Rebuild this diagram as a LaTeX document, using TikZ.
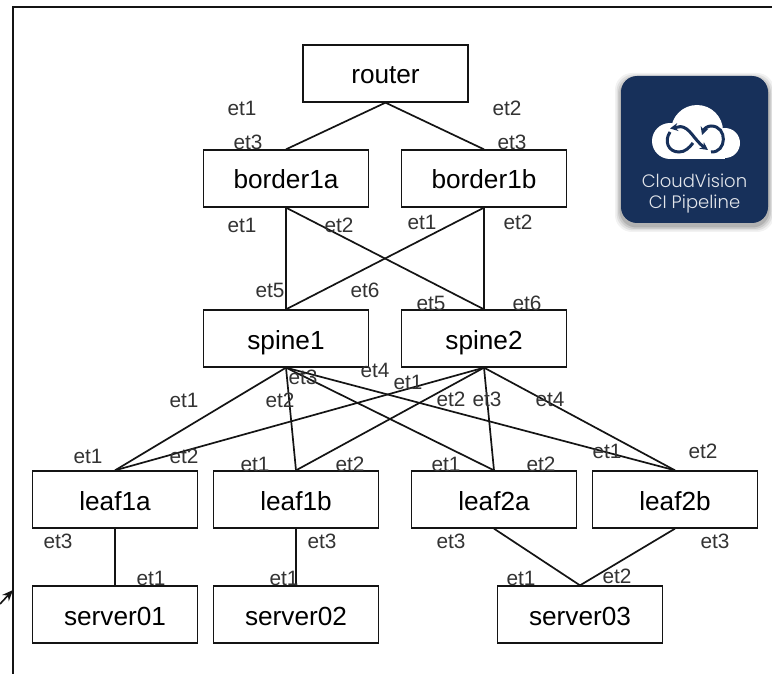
\documentclass[tikz,border=0pt]{standalone}
\usepackage{fontspec}
\setmainfont{Liberation Sans}
\newfontfamily\logofont{Poppins Light}
\usetikzlibrary{arrows.meta}
\definecolor{logoblue}{HTML}{17305A}
\definecolor{linecol}{HTML}{141414}
\definecolor{labelcol}{HTML}{333333}
\tikzset{
  devicebox/.style={draw=linecol,line width=1.8pt,minimum width=165pt,minimum height=56.5pt,inner sep=0pt,fill=none,text height=21pt,text depth=0pt,font=\fontsize{26.2}{29}\selectfont,text=black},
  portlabel/.style={inner sep=0pt,font=\fontsize{20.8}{23}\selectfont,text=labelcol},
  link/.style={draw=linecol,line width=1.7pt},
  logotext/.style={inner sep=0pt,text=white!88!logoblue,font=\logofont\fontsize{18}{20}\selectfont},
  logoline/.style={draw=logoblue,line width=3pt},
  logotip/.style={-{Stealth[length=8pt,width=8pt]}}
}
\begin{document}
\begin{tikzpicture}[x=1pt,y=-1pt]
\useasboundingbox (0,0) rectangle (772,674);
\fill[white] (0,0) rectangle (772,674);
% frame
\coordinate (ftr) at (772,7.5);
\coordinate (ftl) at (12.5,7.5);
\coordinate (fbl) at (12.5,674);
\coordinate (as) at (0,604);
\coordinate (ae) at (13,590);
\draw[line width=2pt,draw=linecol] (ftr) -- (ftl) -- (fbl);
\draw[line width=1.6pt,draw=linecol,-{Stealth[length=11pt,width=9pt]}] (as) -- (ae);
% nodes
\node[devicebox] (router) at (385.5,73.5) {router};
\node[devicebox] (b1a) at (286,178.5) {border1a};
\node[devicebox] (b1b) at (484,178.5) {border1b};
\node[devicebox] (s1) at (286,338.5) {spine1};
\node[devicebox] (s2) at (484,338.5) {spine2};
\node[devicebox] (l1a) at (115,499.5) {leaf1a};
\node[devicebox] (l1b) at (296,499.5) {leaf1b};
\node[devicebox] (l2a) at (494,499.5) {leaf2a};
\node[devicebox] (l2b) at (675,499.5) {leaf2b};
\node[devicebox] (sv1) at (115,614.5) {server01};
\node[devicebox] (sv2) at (296,614.5) {server02};
\node[devicebox] (sv3) at (580,614.5) {server03};
% links
\foreach \a/\b in {router/b1a,router/b1b,b1a/s1,b1a/s2,b1b/s1,b1b/s2,
  s1/l1a,s1/l1b,s1/l2a,s1/l2b,s2/l1a,s2/l1b,s2/l2a,s2/l2b,
  l1a/sv1,l1b/sv2,l2a/sv3,l2b/sv3}
  \draw[link] (\a.south) -- (\b.north);
% port labels
\foreach \x/\y/\t in {242/108/et1,507/108/et2,248/142/et3,512/142/et3,
  242/225/et1,339/225/et2,422/222/et1,518/222/et2,
  270/290/et5,365/290/et6,431/303/et5,527/303/et6,
  184/400/et1,280/400/et2,303/377/et3,375/370/et4,408/382/et1,451/399/et2,487/399/et3,550/399/et4,
  88/456/et1,184/456/et2,255/464/et1,350/464/et2,446/464/et1,541/464/et2,607/451/et1,703/451/et2,
  58/541/et3,322/541/et3,451/541/et3,715/541/et3,
  151/578/et1,284/578/et1,521/578/et1,617/576/et2}
  \node[portlabel] at (\x,\y) {\t};
% logo
\foreach \d/\o in {6/0.05,4.5/0.07,3/0.09,1.5/0.12}
  \fill[black,opacity=\o,rounded corners=17pt] (621-\d,76+3-\d) rectangle (768+\d,223+3+\d);
\fill[logoblue,rounded corners=16pt] (621,76) rectangle (768,223);
\fill[white] (670,141) circle (18);
\fill[white] (725,143) circle (15);
\fill[white] (697,131) circle (26);
\fill[white] (670,135) rectangle (725,158.8);
\draw[logoline] (670,132) .. controls (664,141) and (668,152) .. (679,152) .. controls (685,152) and (689,148) .. (693,143);
\draw[logoline,logotip] (681,126.5) -- (670,128.5);
\draw[logoline,logotip] (680,126.5) .. controls (690,127) and (694,140) .. (708,150);
\draw[logoline,logotip] (711,152) .. controls (727,153) and (728,126) .. (711,126) .. controls (707,126) and (704,129) .. (702,135);
\node[logotext] at (694.5,181) {CloudVision};
\node[logotext] at (694.5,204) {CI Pipeline};
\end{tikzpicture}
\end{document}
